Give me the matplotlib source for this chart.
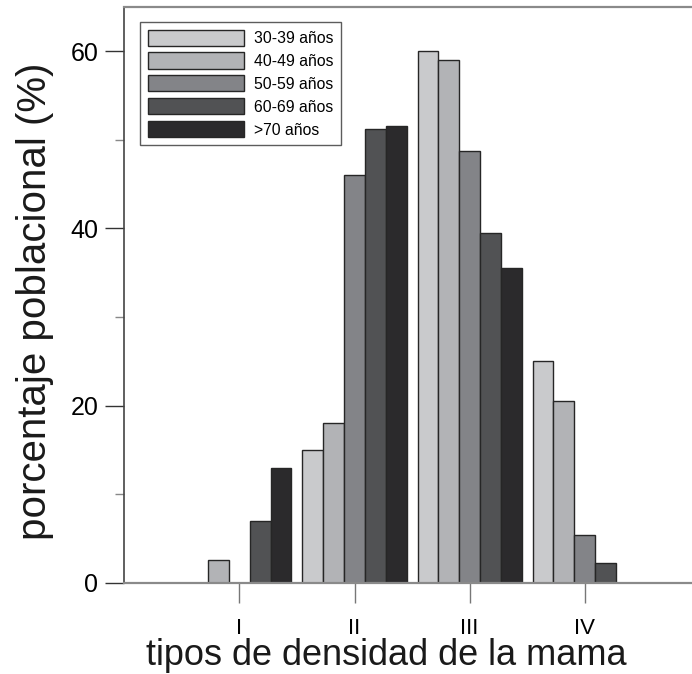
import matplotlib
matplotlib.use("Agg")
import matplotlib.pyplot as plt
import numpy as np

plt.rcParams["font.family"] = ["Liberation Sans", "DejaVu Sans"]

density_types = ["I", "II", "III", "IV"]
age_groups = ["30-39 años", "40-49 años", "50-59 años", "60-69 años", ">70 años"]
pct_30_39 = [0.0, 15.0, 60.0, 25.0]
pct_40_49 = [2.6, 18.0, 59.0, 20.5]
pct_50_59 = [0.0, 46.0, 48.7, 5.4]
pct_60_69 = [7.0, 51.2, 39.5, 2.3]
pct_70_up = [13.0, 51.6, 35.5, 0.0]

series = [pct_30_39, pct_40_49, pct_50_59, pct_60_69, pct_70_up]
fills = ["#c9cacc", "#b2b3b6", "#838488", "#515254", "#2b2a2c"]

W, H = 692, 674
fig = plt.figure(figsize=(W / 100, H / 100), dpi=100)
fig.patch.set_facecolor("white")
ax = fig.add_axes([124.3 / W, (H - 583) / H, 1 - 124.3 / W, (583 - 6.7) / H])

x = np.arange(1, len(density_types) + 1)
width = 0.181
for i, (vals, color, label) in enumerate(zip(series, fills, age_groups)):
    ax.bar(x + (i - 2) * width, vals, width, color=color, edgecolor="#262626",
           linewidth=1.0, label=label, zorder=2)

ax.set_xlim(0, (W - 124.3) / 115.1)
ax.set_ylim(0, 65)

ax.set_xticks(x)
ax.set_xticklabels(density_types, fontsize=16)
ax.set_yticks([0, 20, 40, 60])
ax.set_yticks([10, 30, 50], minor=True)
ax.tick_params(axis="y", which="major", length=13.7, width=1.0, color="#333333",
               labelsize=18, pad=5)
ax.tick_params(axis="y", which="minor", length=6.5, width=1.0, color="#888888")
ax.tick_params(axis="x", which="major", length=14.5, width=1.0, color="#777777",
               labelsize=16, pad=11)

ax.spines["right"].set_visible(False)
ax.spines["left"].set_color("#444444")
ax.spines["left"].set_linewidth(1.2)
for side in ("top", "bottom"):
    ax.spines[side].set_color("#8a8a8a")
    ax.spines[side].set_linewidth(1.6)
ax.spines["bottom"].set_zorder(3)

leg = ax.legend(loc="upper left", bbox_to_anchor=(140 / W, 1 - 21.7 / H),
                bbox_transform=fig.transFigure, borderaxespad=0, fontsize=11.3,
                frameon=True, fancybox=False, handlelength=6.1, handleheight=1.2,
                labelspacing=0.42, handletextpad=0.65, borderpad=0.5)
leg.get_frame().set_edgecolor("#333333")
leg.get_frame().set_linewidth(1.0)

fig.text(35 / W, 1 - 301 / H, "porcentaje poblacional (%)", rotation=90,
         ha="center", va="center", fontsize=29, color="#1a1a1a")
fig.text(386 / W, (H - 665) / H, "tipos de densidad de la mama",
         ha="center", va="baseline", fontsize=26, color="#1a1a1a")

fig.savefig("out.png", dpi=100, facecolor=fig.get_facecolor())
